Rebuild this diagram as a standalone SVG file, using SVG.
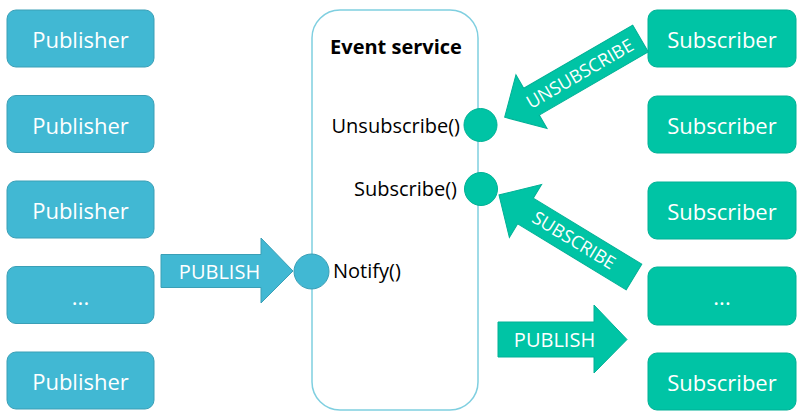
<svg xmlns="http://www.w3.org/2000/svg" width="806" height="420" viewBox="0 0 806 420">
<style>
.pub{fill:#41b8d3;stroke:#3a9fb6;stroke-width:1}
.sub{fill:#00c4a5;stroke:#00b196;stroke-width:1}
.lbl{font-family:"Open Sans",sans-serif;font-size:22px;fill:#ffffff;text-anchor:middle}
.al{font-family:"Open Sans",sans-serif;font-size:20px;fill:#ffffff;text-anchor:middle}
.rl{font-family:"Open Sans",sans-serif;font-size:18px;fill:#ffffff;text-anchor:middle}
.mt{font-family:"Open Sans",sans-serif;font-size:20px;fill:#000000}
.svc{fill:#ffffff;stroke:#7fcfe0;stroke-width:1.5}
</style>
<g id="event-service">
<rect class="svc" x="312" y="10" width="166" height="400" rx="28"/>
<text class="mt" x="396" y="54" text-anchor="middle" font-weight="bold" font-size="19.5">Event service</text>
<text class="mt" x="460" y="133" text-anchor="end">Unsubscribe()</text>
<text class="mt" x="457" y="196" text-anchor="end">Subscribe()</text>
<text class="mt" x="333" y="278">Notify()</text>
</g>
<g id="publisher-1"><rect class="pub" x="7" y="10" width="147" height="57" rx="9"/><text class="lbl" x="80.5" y="48">Publisher</text></g>
<g id="publisher-2"><rect class="pub" x="7" y="95.5" width="147" height="57" rx="9"/><text class="lbl" x="80.5" y="133.5">Publisher</text></g>
<g id="publisher-3"><rect class="pub" x="7" y="181" width="147" height="57" rx="9"/><text class="lbl" x="80.5" y="219">Publisher</text></g>
<g id="publisher-4"><rect class="pub" x="7" y="266.5" width="147" height="57" rx="9"/><text class="lbl" x="80.5" y="304.5">...</text></g>
<g id="publisher-5"><rect class="pub" x="7" y="352" width="147" height="57" rx="9"/><text class="lbl" x="80.5" y="390">Publisher</text></g>
<g id="subscriber-1"><rect class="sub" x="648" y="10" width="148" height="57" rx="9"/><text class="lbl" x="722" y="48">Subscriber</text></g>
<g id="subscriber-2"><rect class="sub" x="648" y="96" width="148" height="57" rx="9"/><text class="lbl" x="722" y="134">Subscriber</text></g>
<g id="subscriber-3"><rect class="sub" x="648" y="182" width="148" height="57" rx="9"/><text class="lbl" x="722" y="220">Subscriber</text></g>
<g id="subscriber-4"><rect class="sub" x="648" y="267" width="148" height="58" rx="9"/><text class="lbl" x="722" y="305">...</text></g>
<g id="subscriber-5"><rect class="sub" x="648" y="353" width="148" height="57" rx="9"/><text class="lbl" x="722" y="391">Subscriber</text></g>
<g id="connectors">
<polygon class="pub" points="161,254.5 261,254.5 261,238 293,271 261,303 261,287.5 161,287.5"/>
<text class="al" x="219.5" y="278.5">PUBLISH</text>
<polygon class="sub" stroke="none" points="498,322 594,322 594,305 627,339.5 594,373 594,357 498,357"/>
<text class="al" x="554.5" y="347">PUBLISH</text>
<g transform="translate(634,277) rotate(211.3)"><polygon class="sub" stroke="none" points="0,-15 127,-15 127,-31 158,0 127,31 127,15 0,15"/></g>
<text class="rl" transform="translate(574,240) rotate(31.3)" y="6.5">SUBSCRIBE</text>
<g transform="translate(640.5,38.5) rotate(149.9)"><polygon class="sub" stroke="none" points="0,-15.5 126,-15.5 126,-31 157,0 126,31 126,15.5 0,15.5"/></g>
<text class="rl" transform="translate(580,74) rotate(-30.1)" y="6" font-size="17">UNSUBSCRIBE</text>
<circle class="sub" cx="480.5" cy="125" r="16.5"/>
<circle class="sub" cx="481" cy="189" r="16.5"/>
<circle class="pub" cx="311.5" cy="271.5" r="17.5"/>
</g>
</svg>
